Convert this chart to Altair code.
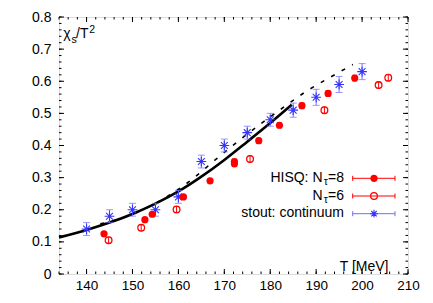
import altair as alt
import pandas as pd
import numpy as np

# ---------------- data ----------------
stout_T = [140, 145, 150, 155, 160, 165, 170, 175, 180, 185, 190, 195, 200]
stout_chi = [0.14, 0.18, 0.20, 0.20, 0.24, 0.35, 0.40, 0.44, 0.48, 0.51, 0.55, 0.59, 0.63]
stout_err = [0.02, 0.02, 0.02, 0.02, 0.02, 0.02, 0.02, 0.02, 0.02, 0.022, 0.025, 0.025, 0.025]

hisq8_T = [143.8, 152.7, 154.3, 161.1, 166.9, 172.2, 172.2, 177.5, 182.0, 186.9, 192.6, 198.4]
hisq8_chi = [0.125, 0.169, 0.186, 0.240, 0.290, 0.350, 0.343, 0.415, 0.463, 0.524, 0.562, 0.610]
hisq8_err = [0.006, 0.006, 0.006, 0.007, 0.007, 0.008, 0.008, 0.008, 0.008, 0.009, 0.009, 0.009]

hisq6_T = [144.8, 151.9, 159.6, 175.6, 191.8, 203.6, 205.7]
hisq6_chi = [0.105, 0.144, 0.201, 0.358, 0.510, 0.588, 0.611]
hisq6_err = [0.009, 0.009, 0.009, 0.01, 0.01, 0.01, 0.01]

solid_T = [134, 140, 145, 150, 155, 160, 165, 170, 175, 180, 184.7]
solid_chi = [0.114, 0.137, 0.160, 0.187, 0.219, 0.257, 0.303, 0.355, 0.412, 0.470, 0.527]

dash_T = [143, 148, 153, 158, 163, 168, 173, 178, 183, 188, 193, 198]
dash_chi = [0.156, 0.175, 0.205, 0.245, 0.295, 0.355, 0.413, 0.468, 0.520, 0.570, 0.612, 0.652]

x_ticks = [140, 150, 160, 170, 180, 190, 200, 210]
y_ticks = [0, 0.1, 0.2, 0.3, 0.4, 0.5, 0.6, 0.7, 0.8]
x_minor = list(np.arange(134, 211, 2))
y_minor = [round(v, 2) for v in np.arange(0, 0.801, 0.02)]

legend_labels = ["HISQ: N", "N", "stout: continuum"]
legend_sub = ["\u03c4", "\u03c4"]
legend_tail = ["=8", "=6"]

# ---------------- layout ----------------
W, H = 349, 257
FONT = "Liberation Sans"
RED = "#ff0000"
BLUE = "#3535ff"
BLUE_ERR = "#6f6fff"
STAR = "M-1,0L1,0M0,-1L0,1M-0.7,-0.7L0.7,0.7M-0.7,0.7L0.7,-0.7"

xs = alt.Scale(domain=[134, 210], nice=False, zero=False)
ys = alt.Scale(domain=[0, 0.8], nice=False, zero=False)

xaxis = alt.Axis(values=x_ticks, title=None, grid=False, domain=False, ticks=False,
                 tickSize=0, labelPadding=4, labelFont=FONT, labelFontSize=13.5,
                 labelColor="black", labelFlush=False)
yaxis = alt.Axis(values=y_ticks, title=None, grid=False, domain=False, ticks=False,
                 tickSize=0, labelPadding=8, labelFont=FONT, labelFontSize=14,
                 labelColor="black",
                 labelExpr="datum.value == 0 ? '0' : format(datum.value, '.1f')")


def X(f):
    return alt.X(f, type="quantitative", scale=xs, axis=xaxis)


def Y(f):
    return alt.Y(f, type="quantitative", scale=ys, axis=yaxis)


def err_df(T, v, e):
    return pd.DataFrame({"T": T, "v": v, "lo": [a - b for a, b in zip(v, e)],
                         "hi": [a + b for a, b in zip(v, e)]})


stout = err_df(stout_T, stout_chi, stout_err)
h8 = err_df(hisq8_T, hisq8_chi, hisq8_err)
h6 = err_df(hisq6_T, hisq6_chi, hisq6_err)
solid = pd.DataFrame({"T": solid_T, "v": solid_chi})
dash = pd.DataFrame({"T": dash_T, "v": dash_chi})

layers = []

# curves
layers.append(alt.Chart(solid).mark_line(color="black", strokeWidth=2.6, interpolate="monotone")
              .encode(x=X("T"), y=Y("v")))
layers.append(alt.Chart(dash).mark_line(color="black", strokeWidth=1.6, strokeDash=[4, 8],
                                        interpolate="monotone")
              .encode(x=X("T"), y=Y("v")))


def errbars(df, color, width=1.0, cap=6):
    r = alt.Chart(df).mark_rule(color=color, strokeWidth=width).encode(
        x=X("T"), y=Y("lo"), y2="hi")
    c1 = alt.Chart(df).mark_tick(color=color, orient="horizontal", size=cap, thickness=width).encode(
        x=X("T"), y=Y("lo"))
    c2 = alt.Chart(df).mark_tick(color=color, orient="horizontal", size=cap, thickness=width).encode(
        x=X("T"), y=Y("hi"))
    return [r, c1, c2]


layers += errbars(stout, BLUE_ERR, 1.0, 7)
layers.append(alt.Chart(stout).mark_point(shape=STAR, size=95, color=BLUE, filled=False,
                                          strokeWidth=1.1, opacity=1)
              .encode(x=X("T"), y=Y("v")))
layers += errbars(h8, RED, 1.0, 5)
layers.append(alt.Chart(h8).mark_point(shape="circle", size=52, color=RED, filled=True, opacity=1)
              .encode(x=X("T"), y=Y("v")))
layers += errbars(h6, RED, 1.0, 4)
layers.append(alt.Chart(h6).mark_point(shape="circle", size=45, color=RED, filled=False,
                                       strokeWidth=1.3, opacity=1)
              .encode(x=X("T"), y=Y("v")))

# inward ticks on all four sides
xt = pd.DataFrame({"t": x_ticks})
xm = pd.DataFrame({"t": x_minor})
yt = pd.DataFrame({"t": y_ticks})
ym = pd.DataFrame({"t": y_minor})
for df, ln in [(xt, 5), (xm, 2.5)]:
    layers.append(alt.Chart(df).mark_rule(color="black", strokeWidth=1).encode(
        x=X("t"), y=alt.value(H), y2=alt.value(H - ln)))
    layers.append(alt.Chart(df).mark_rule(color="black", strokeWidth=1).encode(
        x=X("t"), y=alt.value(0), y2=alt.value(ln)))
for df, ln in [(yt, 5), (ym, 2.5)]:
    layers.append(alt.Chart(df).mark_rule(color="black", strokeWidth=1).encode(
        y=Y("t"), x=alt.value(0), x2=alt.value(ln)))
    layers.append(alt.Chart(df).mark_rule(color="black", strokeWidth=1).encode(
        y=Y("t"), x=alt.value(W), x2=alt.value(W - ln)))

# axis titles (inside the frame, gnuplot style)
def txt(s, x, y, size=14, align="left"):
    return alt.Chart(pd.DataFrame({"s": [s]})).mark_text(
        font=FONT, fontSize=size, align=align, baseline="alphabetic", color="black").encode(
        text="s:N", x=alt.value(x), y=alt.value(y))


layers += [txt("\u03c7", 4.3, 21.3), txt("s", 12.5, 25.5, 10.5), txt("/T", 17.0, 21.3),
           txt("2", 30.3, 15.5, 10.5)]
layers.append(txt("T [MeV]", 329.5, 253.7, 14, "right"))

# legend (gnuplot style, right side)
rows_y = [161.3, 179.0, 196.7]
base_y = [164.9, 182.6, 200.3]
lx0, lx1, lxc = 293.7, 336.0, 315.0
text_right = 285.0
for i in range(3):
    if i < 2:
        layers.append(txt(legend_tail[i], text_right, base_y[i], 14, "right"))
        layers.append(txt(legend_sub[i], text_right - 16.0, base_y[i] + 3.2, 10.5, "right"))
        layers.append(txt(legend_labels[i], text_right - 21.5, base_y[i], 14, "right"))
    else:
        layers.append(txt(legend_labels[i], text_right, base_y[i], 14, "right"))
    col = RED if i < 2 else BLUE_ERR
    d1 = pd.DataFrame({"k": [i]})
    layers.append(alt.Chart(d1).mark_rule(color=col, strokeWidth=1).encode(
        x=alt.value(lx0), x2=alt.value(lx1), y=alt.value(rows_y[i])))
    for xx in (lx0, lx1):
        layers.append(alt.Chart(d1).mark_rule(color=col, strokeWidth=1).encode(
            x=alt.value(xx), y=alt.value(rows_y[i] - 2.5), y2=alt.value(rows_y[i] + 2.5)))
    if i == 0:
        m = alt.Chart(d1).mark_point(shape="circle", size=52, color=RED, filled=True, opacity=1)
    elif i == 1:
        m = alt.Chart(d1).mark_point(shape="circle", size=45, color=RED, filled=False,
                                     strokeWidth=1.3, opacity=1)
    else:
        m = alt.Chart(d1).mark_point(shape=STAR, size=60, color=BLUE, filled=False,
                                     strokeWidth=1.1, opacity=1)
    layers.append(m.encode(x=alt.value(lxc), y=alt.value(rows_y[i])))

chart = alt.layer(*layers).properties(
    width=W, height=H,
    padding={"left": 51, "top": 9, "right": 17, "bottom": 21},
    autosize=alt.AutoSizeParams(type="none"),
).configure_view(stroke="black", strokeWidth=1.2).configure(background="white")

chart.save("out.html", embed_options={"renderer": "svg", "actions": False})
